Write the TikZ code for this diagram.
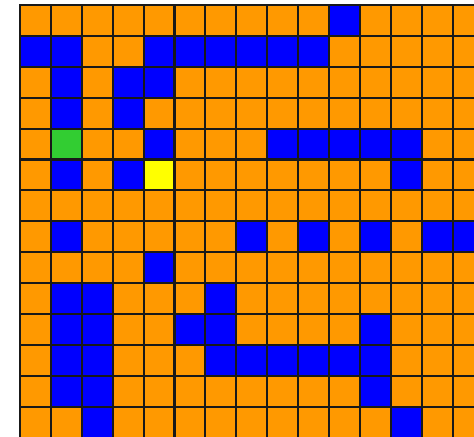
\documentclass[tikz,border=0pt]{standalone}
\usepackage{tikz}
\definecolor{mzOpen}{RGB}{255,153,0}
\definecolor{mzWall}{RGB}{0,0,255}
\definecolor{mzStart}{RGB}{50,205,50}
\definecolor{mzGoal}{RGB}{255,255,0}
\tikzset{
    mzCell/.style={
        draw=black!90,
        line width=1.8pt,
        fill=#1
    }
}
% one square of the maze: row, column, colour
\newcommand{\mzSquare}[3]{%
    \draw[mzCell=#3] ({20+30.9*#2},{5+30.9*#1}) rectangle ++(30.9,30.9);}

\begin{document}
\begin{tikzpicture}[x=0.03cm, y=-0.03cm]
\useasboundingbox (0,0) rectangle (474,436);
\clip (0,0) rectangle (474,436);

% open squares
\foreach \r in {0,...,13}
    \foreach \c in {0,...,14}
        \mzSquare{\r}{\c}{mzOpen};

% walls
\foreach \r/\c in {0/10,
    1/0,1/1,1/4,1/5,1/6,1/7,1/8,1/9,
    2/1,2/3,2/4,
    3/1,3/3,
    4/4,4/8,4/9,4/10,4/11,4/12,
    5/1,5/3,5/12,
    7/1,7/7,7/9,7/11,7/13,7/14,
    8/4,
    9/1,9/2,9/6,
    10/1,10/2,10/5,10/6,10/11,
    11/1,11/2,11/6,11/7,11/8,11/9,11/10,11/11,
    12/1,12/2,12/11,
    13/2,13/12}
    \mzSquare{\r}{\c}{mzWall};

% start and goal
\mzSquare{4}{1}{mzStart}
\mzSquare{5}{4}{mzGoal}
\end{tikzpicture}
\end{document}
